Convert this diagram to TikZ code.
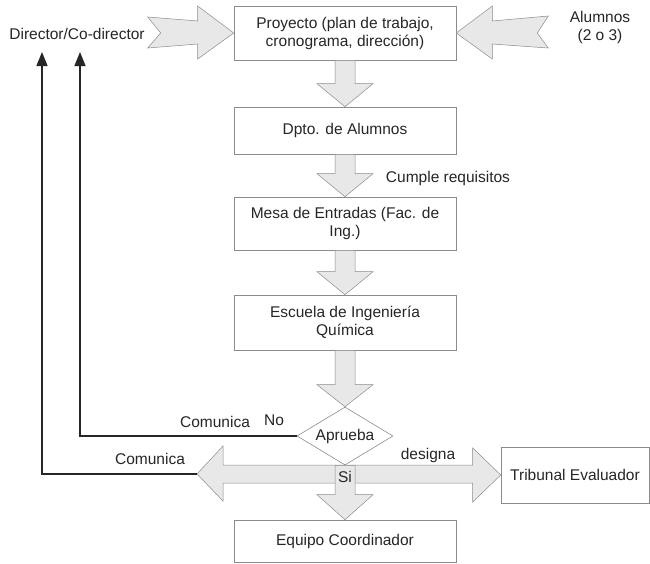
\documentclass[tikz,border=0pt]{standalone}
\usepackage{fontspec}
\setmainfont{Liberation Sans}
\usetikzlibrary{shapes.geometric,arrows.meta,calc}
\newcommand\blkdown[4]{% from, to, shaft half width, head length
  \path[blk] ($(#1.south)+(-#3,0)$) -- ($(#2.north)+(-#3,-#4)$) -- ($(#2.north)+(-28,-#4)$) -- (#2.north)
    -- ($(#2.north)+(28,-#4)$) -- ($(#2.north)+(#3,-#4)$) -- ($(#1.south)+(#3,0)$) -- cycle;}
\begin{document}
\begin{tikzpicture}[x=1pt,y=-1pt,
  every node/.style={font=\fontsize{15.5}{18}\selectfont, text=black!85},
  box/.style={draw=black!45, line width=0.6pt, minimum width=222pt, align=center, inner sep=0pt},
  blk/.style={fill=black!9, draw=black!45, line width=0.5pt},
  lbl/.style={inner sep=0pt},
  conn/.style={draw=black!85, line width=1.4pt, -{Triangle[width=11pt,length=14pt]}}]
\useasboundingbox[fill=white] (0,0) rectangle (650,563);
% boxes
\node[box, minimum height=54pt] (proy) at (345,33) {Proyecto (plan de trabajo,\\cronograma, dirección)};
\node[box, minimum height=47pt] (dpto) at (345,130.5) {Dpto. de Alumnos};
\node[box, minimum height=53pt] (mesa) at (345,223.5) {Mesa de Entradas (Fac. de\\Ing.)};
\node[box, minimum height=55pt] (esc) at (345,322.5) {Escuela de Ingeniería\\Química};
\node[draw=black!45, line width=0.6pt, diamond, aspect=1.6, inner sep=0pt, minimum width=96pt, minimum height=58pt] (apr) at (345,436) {Aprueba};
\node[box, minimum width=148pt, minimum height=56pt] (trib) at (575,475) {Tribunal Evaluador};
\node[box, minimum height=42pt] (equ) at (345,541) {Equipo Coordinador};
% labels
\node[lbl] (dir) at (77,34) {Director/Co-director};
\node[lbl, align=center] (alu) at (600,27) {Alumnos\\(2 o 3)};
\node[lbl] (cum) at (448,178) {Cumple requisitos};
\node[lbl] (com1) at (215,422) {Comunica};
\node[lbl] (no) at (274,420) {No};
\node[lbl] (com2) at (150,459) {Comunica};
\node[lbl] (des) at (428,455) {designa};
\coordinate (hl) at (197,474);
\coordinate (t1) at (42,52);
\coordinate (t2) at (80,52);
% side block arrows into Proyecto
\path[blk] (proy.west) -- ($(proy.west)+(-36,-27)$) -- ($(proy.west)+(-36,-12)$) -- ($(proy.west)+(-86,-16)$)
  -- ($(proy.west)+(-73,0)$) -- ($(proy.west)+(-86,15)$) -- ($(proy.west)+(-36,11)$) -- ($(proy.west)+(-36,26)$) -- cycle;
\path[blk] (proy.east) -- ($(proy.east)+(36,-27)$) -- ($(proy.east)+(36,-12)$) -- ($(proy.east)+(92,-17)$)
  -- ($(proy.east)+(81,0)$) -- ($(proy.east)+(92,15)$) -- ($(proy.east)+(36,11)$) -- ($(proy.east)+(36,26)$) -- cycle;
% down block arrows
\blkdown{proy}{dpto}{10}{23}
\blkdown{dpto}{mesa}{10}{23}
\blkdown{mesa}{esc}{10}{23}
\blkdown{esc}{apr}{10}{22}
% horizontal double arrow
\path[blk] (hl) -- ($(hl)+(26,-28)$) -- ($(hl)+(26,-9)$) -- ($(trib.west)+(-28,-10)$) -- ($(trib.west)+(-28,-27)$)
  -- (trib.west) -- ($(trib.west)+(-28,27)$) -- ($(trib.west)+(-28,8)$) -- ($(hl)+(26,9)$) -- ($(hl)+(26,27)$) -- cycle;
\blkdown{apr}{equ}{10}{25}
\node[lbl] (si) at (345,477) {Si};
% connectors
\draw[conn] (apr.west) -| (t2);
\draw[conn] (hl) -| (t1);
\end{tikzpicture}
\end{document}
